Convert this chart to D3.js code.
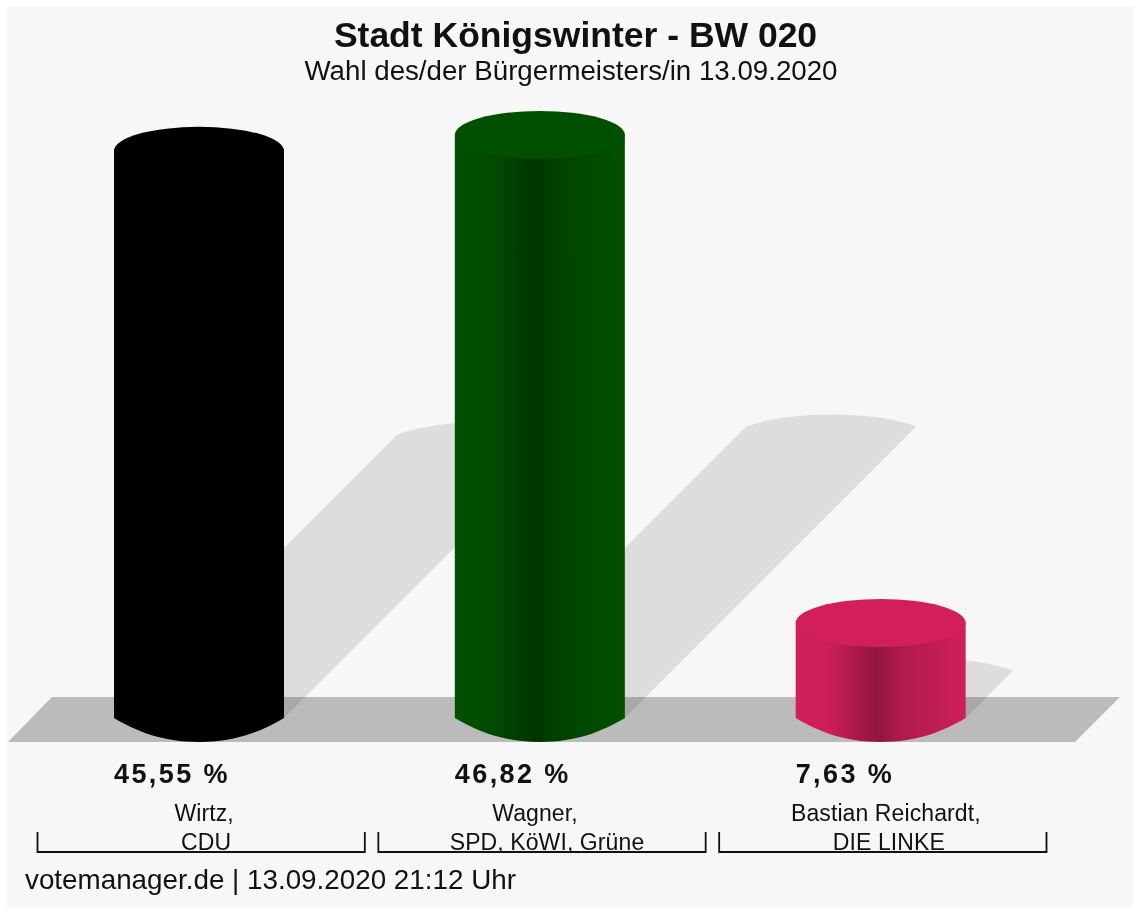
<!DOCTYPE html>
<html><head><meta charset="utf-8">
<script src="https://cdnjs.cloudflare.com/ajax/libs/d3/7.8.5/d3.min.js"></script>
<style>html,body{margin:0;background:#fff}svg{display:block;filter:blur(0.5px)}text{font-family:"Liberation Sans",Arial,sans-serif;fill:#111}</style>
</head><body><svg id="c" width="1134" height="908"></svg>
<script>
const categories = ["Wirtz, CDU","Wagner, SPD, KöWI, Grüne","Bastian Reichardt, DIE LINKE"];
const labelLine1 = ["Wirtz,","Wagner,","Bastian Reichardt,"];
const labelLine2 = ["CDU","SPD, KöWI, Grüne","DIE LINKE"];
const values = [45.55,46.82,7.63];
const valueLabels = ["45,55 %","46,82 %","7,63 %"];
const palette = [
  ["#000000","#000000","#000000","#000000","#000000"],
  ["#005000","#004c00","#003400","#004400","#005000"],
  ["#d01f5c","#cb1e5a","#92143f","#ae1a4e","#d01f5c"]
];
const topColors = ["#000000","#005000","#d21f5c"];
const title = "Stadt Königswinter - BW 020";
const subtitle = "Wahl des/der Bürgermeisters/in 13.09.2020";
const footer = "votemanager.de | 13.09.2020 21:12 Uhr";

const svg = d3.select("#c");
const baseY = 718, rx = 85, ry = 24;
const y = d3.scaleLinear().domain([0,46.82]).range([baseY,135]);
const x = d3.scaleBand().domain(categories).range([37,1047]).paddingInner(12.5/340.5).paddingOuter(0);
const cx = c => x(c) + 162;

svg.append("rect").attr("x",7).attr("y",7).attr("width",1127).attr("height",900).attr("fill","#f7f7f7");

const defs = svg.append("defs");
const stops = [0,.2,.48,.62,1];
categories.forEach((c,i)=>{
  const g = defs.append("linearGradient").attr("id","g"+i);
  stops.forEach((s,j)=>g.append("stop").attr("offset",s).attr("stop-color",palette[i][j]));
});

// floor
svg.append("path").attr("d","M8,742L52,697L1120,697L1075,742Z").attr("fill","#bbbbbb");

// shadows
categories.forEach((c,i)=>{
  const h = baseY - y(values[i]), o = h/2, l = cx(c)-rx, r = cx(c)+rx;
  svg.append("path")
    .attr("d",`M${l},${baseY}L${l+o},${baseY-o}A110,33 0 0 1 ${r+o},${baseY-o}L${r},${baseY}Z`)
    .attr("fill","#000").attr("fill-opacity",.1);
});

// cylinders
categories.forEach((c,i)=>{
  const top = y(values[i]), l = cx(c)-rx, r = cx(c)+rx, m = cx(c), b = baseY;
  svg.append("path")
    .attr("d",`M${l},${top}L${l},${b}C${l+22},${b+13} ${l+48},${b+24} ${m},${b+24}S${r-22},${b+13} ${r},${b}L${r},${top}Z`)
    .attr("fill",`url(#g${i})`);
  svg.append("ellipse").attr("cx",m).attr("cy",top).attr("rx",rx).attr("ry",ry).attr("fill",topColors[i]);
});

// value labels
categories.forEach((c,i)=>{
  svg.append("text").attr("x",cx(c)-rx).attr("y",783).attr("font-size",27).attr("font-weight","bold")
    .attr("letter-spacing",2.4).attr("fill","#222").text(valueLabels[i]);
});

// brackets and labels
const line1Off = [3,-7,3], line2Off = [5,5,6];
categories.forEach((c,i)=>{
  const a = x(c)+.5, b = x(c)+x.bandwidth()-.5;
  svg.append("path").attr("d",`M${a},832V852H${b}V832`).attr("fill","none").attr("stroke","#111").attr("stroke-width",1.8);
  const m = x(c)+x.bandwidth()/2;
  svg.append("text").attr("x",m+line1Off[i]).attr("y",821).attr("text-anchor","middle").attr("font-size",23).attr("letter-spacing",.1).text(labelLine1[i]);
  svg.append("text").attr("x",m+line2Off[i]).attr("y",850).attr("text-anchor","middle").attr("font-size",23).attr("letter-spacing",.1).text(labelLine2[i]);
});

svg.append("text").attr("x",575.5).attr("y",47).attr("text-anchor","middle").attr("font-size",35.5).attr("font-weight","bold").text(title);
svg.append("text").attr("x",571).attr("y",80).attr("text-anchor","middle").attr("font-size",27.7).attr("fill","#222").text(subtitle);
svg.append("text").attr("x",25).attr("y",889).attr("font-size",27.8).attr("fill","#333").text(footer);
</script></body></html>
